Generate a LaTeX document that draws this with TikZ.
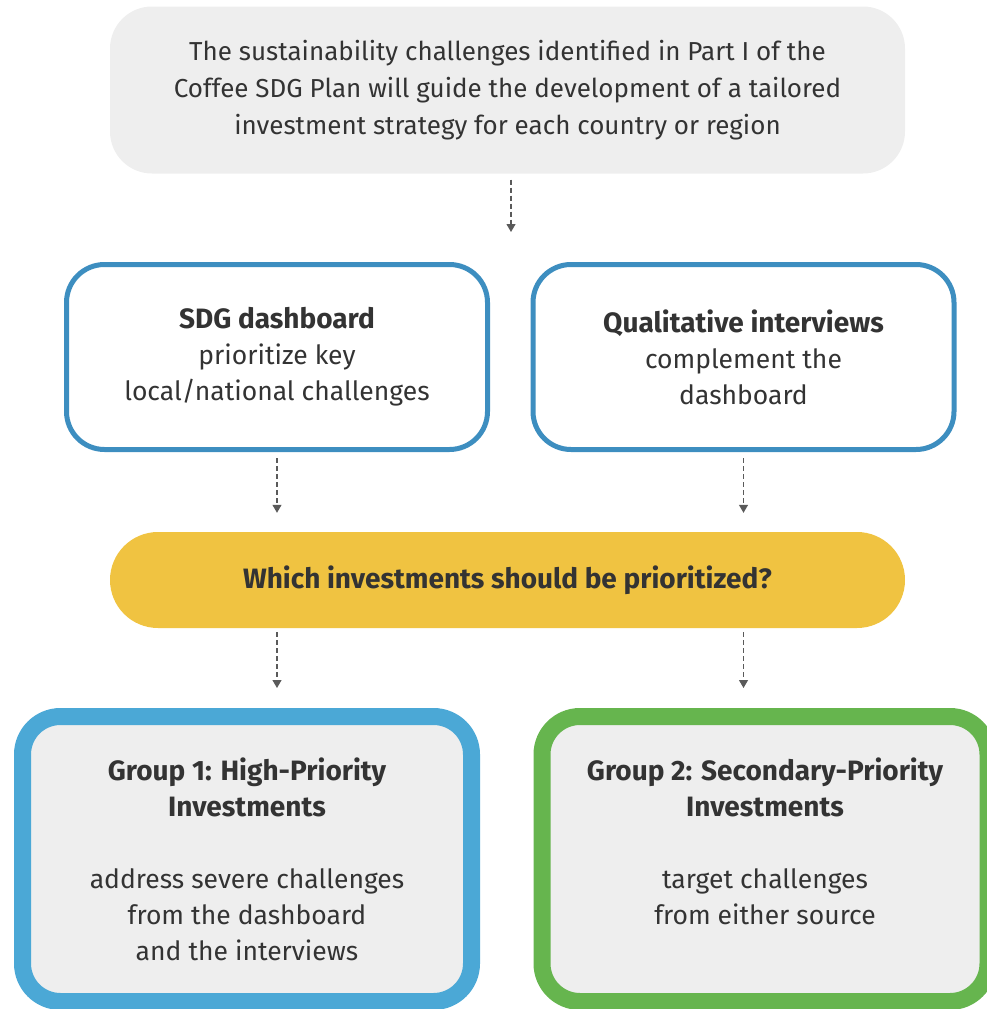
\documentclass[tikz,border=0pt]{standalone}
\usepackage{fontspec}
\setmainfont{Fira Sans}
\usetikzlibrary{arrows.meta}
\definecolor{txt}{HTML}{333333}
\definecolor{boxgray}{HTML}{EEEEEE}
\definecolor{midblue}{HTML}{3D8EC0}
\definecolor{lightblue}{HTML}{4BA8D6}
\definecolor{sdgyellow}{HTML}{F0C341}
\definecolor{sdggreen}{HTML}{66B54E}
\definecolor{arrgray}{HTML}{5A5A5A}
\newcommand{\hd}[1]{{\fontsize{28}{36}\selectfont\bfseries #1}}
\tikzset{
  txtfont/.style={font=\fontsize{26.5}{36}\selectfont, text=txt, align=center},
  topbox/.style={font=\fontsize{26}{37}\selectfont, text=txt, align=center, fill=boxgray, rounded corners=42pt, minimum width=795pt, minimum height=167pt, inner sep=0pt},
  midbox/.style={txtfont, draw=midblue, line width=5pt, fill=white, rounded corners=38pt, minimum width=421pt, minimum height=185pt, inner sep=0pt},
  pill/.style={txtfont, fill=sdgyellow, rounded corners=48pt, minimum width=795pt, minimum height=96pt, inner sep=0pt},
  groupbox/.style={txtfont, line width=17pt, fill=boxgray, rounded corners=38pt, minimum width=449pt, minimum height=285pt, inner sep=0pt},
  arr/.style={draw=arrgray, line width=1.1pt, dash pattern=on 5pt off 3pt, -{Triangle[width=9pt,length=8pt]}}
}
\begin{document}
\begin{tikzpicture}[x=1pt,y=-1pt]
\useasboundingbox (0,0) rectangle (986,1009);
\node[topbox] (top) at (507.5,90) {The sustainability challenges identified in Part I of the\\Coffee SDG Plan will guide the development of a tailored\\investment strategy for each country or region};
\node[midbox] (sdg) at (277,357) {\hd{SDG dashboard}\\prioritize key\\local/national challenges};
\node[midbox] (qual) at (743.5,357) {\hd{Qualitative interviews}\\complement the\\dashboard};
\node[pill] (q) at (507.5,580) {\hd{Which investments should be prioritized?}};
\node[groupbox, draw=lightblue] (g1) at (247,859) {\hd{Group 1: High-Priority}\\\hd{Investments}\\[36pt]address severe challenges\\from the dashboard\\and the interviews};
\node[groupbox, draw=sdggreen, minimum width=446pt] (g2) at (765,859) {\hd{Group 2: Secondary-Priority}\\\hd{Investments}\\[36pt]target challenges\\from either source\\\mbox{}};
\coordinate (a1) at (511,232);
\draw[arr, shorten <=6pt] (a1 |- top.south) -- (a1);
\draw[arr, shorten <=6pt, shorten >=19pt] (sdg.south) -- (sdg.south |- q.north);
\draw[arr, shorten <=6pt, shorten >=19pt] (qual.south) -- (qual.south |- q.north);
\draw[arr, shorten <=4pt, shorten >=20pt] (sdg.south |- q.south) -- (sdg.south |- g1.north);
\draw[arr, shorten <=4pt, shorten >=20pt] (qual.south |- q.south) -- (qual.south |- g2.north);
\end{tikzpicture}
\end{document}
